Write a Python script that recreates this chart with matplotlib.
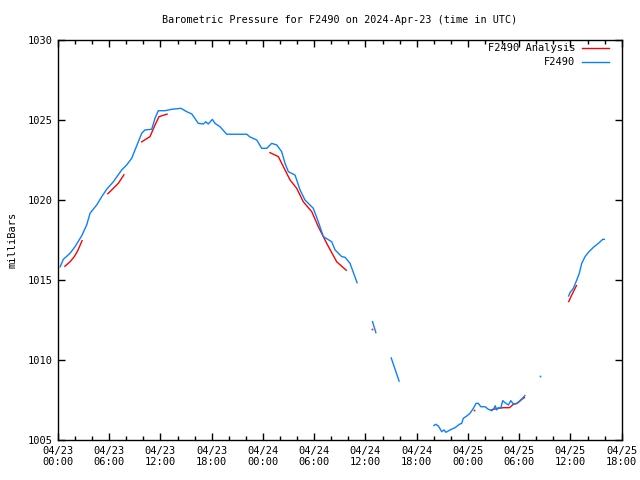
import numpy as np
import matplotlib
matplotlib.use("Agg")
import matplotlib.pyplot as plt
from matplotlib.ticker import MultipleLocator, FixedLocator

nan = np.nan

# Hours since 2024-04-23 00:00 UTC and pressure (mb); NaN = gap
obs_hours = [0.23, 0.62, 1.41, 1.99, 2.78, 3.36, 3.75, 4.53, 5.12, 5.70, 6.48, 7.46, 8.04, 8.63,
             9.33, 9.80, 10.19, 10.97, 11.36, 11.74, 12.53, 13.31, 14.40, 15.07, 15.66, 16.43,
             17.01, 17.30, 17.60, 18.07, 18.38, 18.97, 19.75, 20.73, 22.10, 22.48, 23.27, 23.85,
             24.44, 25.02, 25.61, 26.19, 26.58, 26.97, 27.75, 28.34, 28.92, 29.89, 30.48, 31.07,
             32.05, 32.44, 33.22, 33.61, 34.19, 35.05, 35.5,
             36.80, 37.24, 38.0,
             38.99, 39.96, 41.0,
             43.95, 44.22, 44.53, 44.93, 45.20, 45.43, 45.90, 46.49, 46.99, 47.27, 47.46, 47.86,
             48.24, 48.63, 48.95, 49.22, 49.50, 50.00, 50.39, 50.78, 51.05, 51.20, 51.37, 51.56,
             51.84, 52.07, 52.34, 52.73, 53.01, 53.32, 53.71, 54.10, 54.49, 54.72, 55.5,
             56.44, 57.5,
             59.76, 59.95, 60.34, 60.74, 61.04, 61.32, 61.71, 62.10, 62.68, 63.27, 63.78, 64.05]
obs_values = [1015.79, 1016.29, 1016.67, 1017.08, 1017.77, 1018.44, 1019.17, 1019.69, 1020.21,
              1020.67, 1021.14, 1021.88, 1022.19, 1022.61, 1023.54, 1024.17, 1024.38, 1024.42,
              1025.11, 1025.58, 1025.58, 1025.67, 1025.73, 1025.52, 1025.38, 1024.79, 1024.75,
              1024.89, 1024.75, 1025.04, 1024.79, 1024.58, 1024.11, 1024.11, 1024.11, 1023.94,
              1023.75, 1023.23, 1023.23, 1023.54, 1023.44, 1023.02, 1022.29, 1021.77, 1021.56,
              1020.63, 1020.00, 1019.48, 1018.64, 1017.71, 1017.39, 1016.88, 1016.46, 1016.42,
              1016.04, 1014.79, nan,
              1012.44, 1011.67, nan,
              1010.17, 1008.64, nan,
              1005.88, 1005.98, 1005.88, 1005.52, 1005.63, 1005.48, 1005.63, 1005.77, 1005.98,
              1006.04, 1006.36, 1006.50, 1006.67, 1006.98, 1007.29, 1007.29, 1007.08, 1007.08,
              1006.92, 1006.83, 1006.98, 1007.14, 1006.88, 1007.02, 1006.98, 1007.46, 1007.33,
              1007.19, 1007.46, 1007.25, 1007.29, 1007.46, 1007.67, 1007.81, nan,
              1009.00, nan,
              1013.96, 1014.21, 1014.48, 1015.00, 1015.42, 1016.04, 1016.46, 1016.73, 1017.04,
              1017.29, 1017.54, 1017.54]

ana_hours = [0.74, 1.41, 1.91, 2.31, 2.85, 4.0,
             5.77, 6.48, 7.06, 7.76, 8.5,
             9.72, 10.77, 11.36, 11.83, 12.85, 13.5,
             24.74, 25.80, 26.58, 27.17, 27.95, 28.72, 29.71, 30.48, 31.46, 32.63, 33.81, 34.5,
             36.80, 37.5,
             48.75, 49.5,
             50.67, 51.56, 52.15, 52.85, 53.32, 53.78, 54.30, 54.68, 55.5,
             59.76, 60.15, 60.74]
ana_values = [1015.83, 1016.14, 1016.46, 1016.83, 1017.50, nan,
              1020.36, 1020.73, 1021.04, 1021.61, nan,
              1023.61, 1023.96, 1024.69, 1025.21, 1025.38, nan,
              1022.98, 1022.71, 1021.88, 1021.25, 1020.73, 1019.89, 1019.27, 1018.33, 1017.29,
              1016.14, 1015.58, nan,
              1011.92, nan,
              1006.88, nan,
              1006.88, 1006.98, 1007.02, 1007.02, 1007.23, 1007.29, 1007.54, 1007.67, nan,
              1013.61, 1014.06, 1014.69]

tick_hours = [0, 6, 12, 18, 24, 30, 36, 42, 48, 54, 60, 66]
tick_labels = ["04/23\n00:00", "04/23\n06:00", "04/23\n12:00", "04/23\n18:00",
               "04/24\n00:00", "04/24\n06:00", "04/24\n12:00", "04/24\n18:00",
               "04/25\n00:00", "04/25\n06:00", "04/25\n12:00", "04/25\n18:00"]

plt.rcParams['font.family'] = ['DejaVu Sans Mono']
plt.rcParams['font.size'] = 7.5

fig = plt.figure(figsize=(6.4, 4.8), dpi=100)
ax = fig.add_axes([58/640, 1 - 440/480, (621.7 - 58)/640, 400/480])

red = '#ff0000'
blue = '#0a80ff'

def plot_series(h, v, color):
    h = np.array(h); v = np.array(v)
    ax.plot(h, v, color=color, lw=1.0, solid_capstyle='butt')
    # isolated points (surrounded by gaps) drawn as dots
    for i in range(len(v)):
        if np.isnan(v[i]):
            continue
        prev_nan = i == 0 or np.isnan(v[i-1])
        next_nan = i == len(v) - 1 or np.isnan(v[i+1])
        if prev_nan and next_nan:
            ax.plot([h[i]], [v[i]], marker='s', ms=1.2, color=color, mew=0, ls='none')

plot_series(ana_hours, ana_values, red)
plot_series(obs_hours, obs_values, blue)

ax.set_xlim(0, 66)
ax.set_ylim(1005, 1030)
ax.xaxis.set_major_locator(FixedLocator(tick_hours))
ax.set_xticklabels(tick_labels)
ax.xaxis.set_minor_locator(MultipleLocator(2))
ax.yaxis.set_major_locator(MultipleLocator(5))
ax.tick_params(axis='both', which='major', direction='in', length=5, width=1,
               top=True, right=True, labelsize=7.5, pad=4)
ax.tick_params(axis='x', which='minor', direction='in', length=3, width=1, top=True)
for s in ax.spines.values():
    s.set_linewidth(1.0)

ax.set_ylabel('milliBars', fontsize=7.5, labelpad=7)
ax.set_title('Barometric Pressure for F2490 on 2024-Apr-23 (time in UTC)', fontsize=7.3, pad=12)

# legend (gnuplot style: right-aligned text, sample line to the right)
legend_items = [("F2490 Analysis", red), ("F2490", blue)]
for i, (lab, col) in enumerate(legend_items):
    yy = 1 - (8 + 14 * i) / 400
    ax.text(1 - 46.5/563.7, yy, lab, transform=ax.transAxes, ha='right', va='center', fontsize=7.5)
    ax.plot([1 - 39.7/563.7, 1 - 12.7/563.7], [yy, yy], transform=ax.transAxes, color=col, lw=1.0)

fig.savefig('out.png', dpi=100)
